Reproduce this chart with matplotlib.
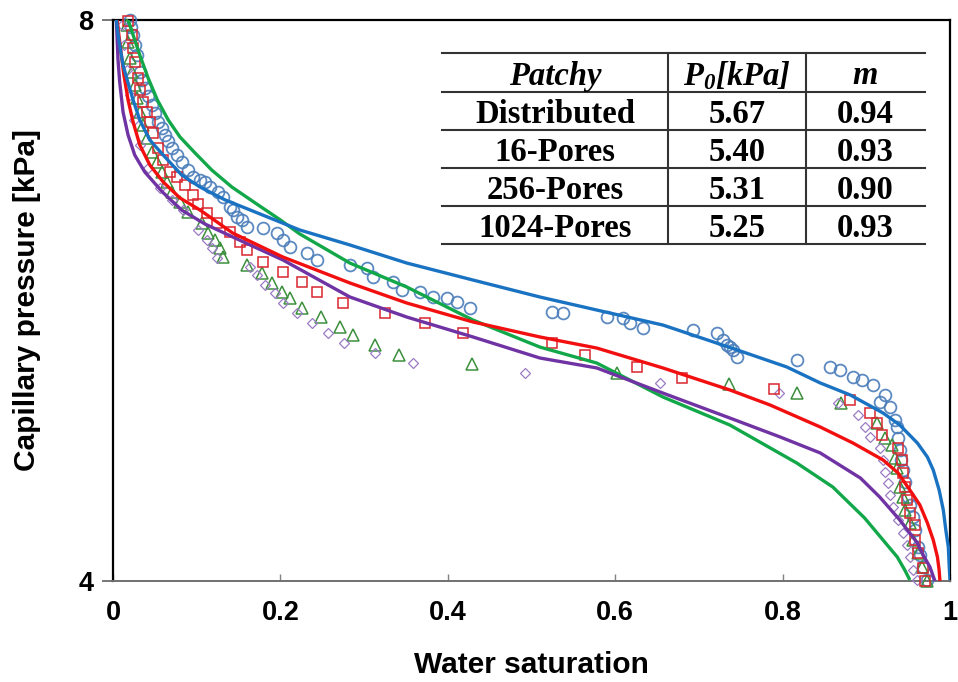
import matplotlib
matplotlib.use("Agg")
import matplotlib.pyplot as plt
from matplotlib.lines import Line2D

plt.rcParams['font.family'] = ['Liberation Sans', 'DejaVu Sans']
plt.rcParams['mathtext.fontset'] = 'custom'
plt.rcParams['mathtext.bfit'] = 'Liberation Serif:italic:bold'
plt.rcParams['mathtext.it'] = 'Liberation Serif:italic:bold'
plt.rcParams['mathtext.rm'] = 'Liberation Serif:bold'

# ---------------- data ----------------
# fitted curves
blue_fit_x = [0.004, 0.007, 0.012, 0.017, 0.024, 0.032, 0.044, 0.060, 0.082, 0.104, 0.134, 0.164,
              0.223, 0.283, 0.351, 0.430, 0.510, 0.578, 0.657, 0.746, 0.805, 0.845, 0.881, 0.920,
              0.940, 0.961, 0.973, 0.980, 0.987, 0.992, 0.995, 0.998, 0.999, 1.000]
blue_fit_y = [8.000, 7.857, 7.679, 7.572, 7.430, 7.287, 7.144, 7.037, 6.895, 6.809, 6.717, 6.645,
              6.503, 6.396, 6.267, 6.146, 6.025, 5.932, 5.825, 5.647, 5.526, 5.412, 5.326, 5.198,
              5.112, 4.984, 4.884, 4.791, 4.649, 4.506, 4.364, 4.242, 4.114, 4.007]

red_fit_x = [0.005, 0.007, 0.010, 0.013, 0.018, 0.024, 0.032, 0.044, 0.060, 0.080, 0.104, 0.143,
             0.203, 0.283, 0.351, 0.430, 0.510, 0.578, 0.657, 0.737, 0.785, 0.845, 0.884, 0.920,
             0.938, 0.952, 0.964, 0.973, 0.980, 0.985, 0.987, 0.988]
red_fit_y = [8.000, 7.893, 7.750, 7.608, 7.430, 7.273, 7.109, 6.966, 6.845, 6.731, 6.645, 6.481,
             6.310, 6.125, 5.982, 5.847, 5.740, 5.661, 5.519, 5.362, 5.255, 5.098, 4.984, 4.863,
             4.770, 4.649, 4.542, 4.414, 4.292, 4.171, 4.078, 4.000]

green_fit_x = [0.018, 0.024, 0.032, 0.042, 0.053, 0.066, 0.080, 0.098, 0.118, 0.142, 0.170, 0.200,
               0.223, 0.283, 0.351, 0.430, 0.510, 0.578, 0.657, 0.737, 0.817, 0.860, 0.898, 0.913,
               0.928, 0.937, 0.946, 0.952]
green_fit_y = [8.000, 7.893, 7.750, 7.586, 7.430, 7.287, 7.166, 7.052, 6.930, 6.809, 6.695, 6.574,
               6.475, 6.267, 6.096, 5.861, 5.668, 5.554, 5.312, 5.112, 4.841, 4.670, 4.449, 4.342,
               4.235, 4.171, 4.078, 4.007]

purple_fit_x = [0.004, 0.005, 0.006, 0.008, 0.012, 0.018, 0.026, 0.038, 0.059, 0.082, 0.110, 0.143,
                0.203, 0.283, 0.351, 0.430, 0.510, 0.578, 0.657, 0.737, 0.797, 0.845, 0.893, 0.916,
                0.940, 0.961, 0.968, 0.976, 0.982]
purple_fit_y = [8.000, 7.857, 7.715, 7.558, 7.344, 7.180, 7.037, 6.916, 6.774, 6.645, 6.545, 6.453,
                6.289, 6.025, 5.882, 5.740, 5.590, 5.519, 5.340, 5.162, 5.027, 4.913, 4.734, 4.599,
                4.435, 4.271, 4.185, 4.100, 4.000]

# measured data
distributed_x = [0.020, 0.022, 0.024, 0.026, 0.029, 0.032, 0.035, 0.038, 0.042, 0.047, 0.050, 0.054,
                 0.059, 0.062, 0.066, 0.070, 0.076, 0.082, 0.090, 0.096, 0.104, 0.110, 0.116, 0.125,
                 0.131, 0.140, 0.143, 0.148, 0.154, 0.160, 0.179, 0.196, 0.203, 0.211, 0.232, 0.244,
                 0.283, 0.303, 0.311, 0.335, 0.345, 0.367, 0.382, 0.399, 0.411, 0.427, 0.524, 0.538,
                 0.590, 0.609, 0.618, 0.633, 0.693, 0.722, 0.729, 0.733, 0.737, 0.741, 0.746, 0.817,
                 0.857, 0.869, 0.884, 0.895, 0.908, 0.916, 0.922, 0.928, 0.934, 0.937, 0.938, 0.940,
                 0.941, 0.944, 0.946, 0.950, 0.952, 0.956, 0.958, 0.962, 0.964, 0.968, 0.972]
distributed_y = [8.000, 7.950, 7.893, 7.822, 7.750, 7.629, 7.572, 7.515, 7.458, 7.394, 7.337, 7.273,
                 7.230, 7.180, 7.137, 7.087, 7.040, 6.988, 6.930, 6.881, 6.859, 6.845, 6.809, 6.774,
                 6.738, 6.667, 6.645, 6.595, 6.574, 6.524, 6.517, 6.481, 6.431, 6.381, 6.339, 6.289,
                 6.253, 6.232, 6.168, 6.132, 6.075, 6.061, 6.025, 6.018, 5.989, 5.947, 5.918, 5.911,
                 5.882, 5.875, 5.840, 5.804, 5.790, 5.768, 5.718, 5.683, 5.668, 5.647, 5.597, 5.576,
                 5.526, 5.504, 5.455, 5.433, 5.398, 5.276, 5.326, 5.241, 5.148, 5.098, 5.020, 4.934,
                 4.863, 4.791, 4.706, 4.599, 4.542, 4.456, 4.364, 4.242, 4.185, 4.100, 4.007]

pores16_x = [0.018, 0.023, 0.024, 0.026, 0.030, 0.032, 0.036, 0.041, 0.044, 0.048, 0.054, 0.060,
             0.068, 0.076, 0.086, 0.096, 0.102, 0.112, 0.124, 0.140, 0.152, 0.160, 0.179, 0.203,
             0.226, 0.244, 0.275, 0.325, 0.373, 0.418, 0.524, 0.564, 0.626, 0.680, 0.790, 0.881,
             0.904, 0.913, 0.919, 0.938, 0.943, 0.944, 0.946, 0.949, 0.952, 0.958, 0.958, 0.962,
             0.968, 0.970]
pores16_y = [7.990, 7.893, 7.800, 7.701, 7.586, 7.501, 7.415, 7.344, 7.273, 7.194, 7.087, 7.002,
             6.916, 6.881, 6.824, 6.752, 6.688, 6.624, 6.553, 6.488, 6.417, 6.360, 6.275, 6.203,
             6.132, 6.061, 5.982, 5.911, 5.840, 5.768, 5.697, 5.611, 5.526, 5.447, 5.369, 5.291,
             5.198, 5.127, 5.041, 4.948, 4.863, 4.770, 4.670, 4.578, 4.485, 4.399, 4.292, 4.200,
             4.093, 4.000]

pores256_x = [0.017, 0.018, 0.020, 0.023, 0.026, 0.029, 0.032, 0.036, 0.041, 0.047, 0.053, 0.059,
              0.065, 0.070, 0.080, 0.090, 0.106, 0.114, 0.122, 0.128, 0.131, 0.160, 0.178, 0.190,
              0.202, 0.211, 0.226, 0.249, 0.271, 0.287, 0.313, 0.342, 0.429, 0.602, 0.736, 0.817,
              0.870, 0.913, 0.922, 0.931, 0.934, 0.937, 0.940, 0.944, 0.946, 0.952, 0.956, 0.962,
              0.967, 0.973]
pores256_y = [7.964, 7.843, 7.729, 7.629, 7.537, 7.444, 7.344, 7.251, 7.159, 7.059, 6.988, 6.916,
              6.845, 6.774, 6.702, 6.631, 6.553, 6.481, 6.431, 6.374, 6.310, 6.253, 6.196, 6.125,
              6.061, 6.018, 5.947, 5.882, 5.811, 5.754, 5.683, 5.611, 5.547, 5.483, 5.405, 5.340,
              5.269, 5.127, 5.020, 4.970, 4.877, 4.806, 4.670, 4.599, 4.506, 4.414, 4.292, 4.200,
              4.100, 4.000]

pores1024_x = [0.011, 0.013, 0.017, 0.020, 0.025, 0.032, 0.042, 0.056, 0.070, 0.084, 0.102, 0.112,
               0.118, 0.124, 0.164, 0.172, 0.182, 0.194, 0.203, 0.220, 0.238, 0.257, 0.276, 0.313,
               0.358, 0.492, 0.654, 0.796, 0.866, 0.890, 0.898, 0.904, 0.916, 0.920, 0.922, 0.926,
               0.928, 0.932, 0.938, 0.944, 0.949, 0.952, 0.956, 0.961]
pores1024_y = [7.964, 7.822, 7.644, 7.465, 7.287, 7.109, 6.945, 6.802, 6.717, 6.645, 6.503, 6.431,
               6.374, 6.303, 6.239, 6.182, 6.111, 6.054, 5.982, 5.911, 5.840, 5.768, 5.697, 5.626,
               5.554, 5.483, 5.412, 5.340, 5.269, 5.184, 5.098, 5.027, 4.948, 4.863, 4.777, 4.699,
               4.613, 4.528, 4.435, 4.342, 4.257, 4.171, 4.078, 4.007]

# table contents
table_header = ["Patchy", r"$\mathbfit{P_0[kPa]}$", "m"]
table_cases = ["Distributed", "16-Pores", "256-Pores", "1024-Pores"]
table_p0 = ["5.67", "5.40", "5.31", "5.25"]
table_m = ["0.94", "0.93", "0.90", "0.93"]

x_ticks = [0, 0.2, 0.4, 0.6, 0.8, 1]
x_tick_labels = ["0", "0.2", "0.4", "0.6", "0.8", "1"]
y_ticks = [4, 8]
y_tick_labels = ["4", "8"]

# ---------------- figure ----------------
W, H = 958, 682
fig = plt.figure(figsize=(W / 100, H / 100), dpi=100)
ax = fig.add_axes([113 / W, 1 - 581 / H, (950 - 113) / W, (581 - 20) / H])

c_blue_pts = '#4A7DBA'
c_red_pts = '#D9262F'
c_green_pts = '#3C8F3C'
c_purple_pts = '#9B7CC4'

ms_kw = dict(ls='none', mfc='none', clip_on=False, zorder=3)
ax.plot(distributed_x, distributed_y, marker='o', ms=8.5, mec=c_blue_pts, mew=1.3, alpha=0.9, **ms_kw)
ax.plot(pores256_x, pores256_y, marker='^', ms=8, mec=c_green_pts, mew=1.1, **ms_kw)
ax.plot(pores1024_x, pores1024_y, marker='D', ms=5.5, mec=c_purple_pts, mew=0.9, **ms_kw)
ax.plot(pores16_x, pores16_y, marker='s', ms=7.5, mec=c_red_pts, mew=1.1, **ms_kw)

lw = 2.4
line_kw = dict(lw=lw, zorder=4, solid_capstyle='butt', solid_joinstyle='round')
ax.plot(green_fit_x, green_fit_y, color='#12A84A', **line_kw)
ax.plot(purple_fit_x, purple_fit_y, color='#7033A3', **line_kw)
ax.plot(red_fit_x, red_fit_y, color='#F20F0F', **line_kw)
ax.plot(blue_fit_x, blue_fit_y, color='#1A73C2', **line_kw)

ax.set_xlim(0, 1)
ax.set_ylim(4, 8)
ax.set_xticks(x_ticks)
ax.set_xticklabels(x_tick_labels, fontsize=19.5, fontweight='bold')
ax.set_yticks(y_ticks)
ax.set_yticklabels(y_tick_labels, fontsize=19.5, fontweight='bold')
ax.tick_params(axis='x', direction='in', length=5, width=1, color='#808080', pad=14)
ax.tick_params(axis='y', direction='out', length=8, width=1.2, color='#606060', pad=6)
for s in ['top', 'right', 'left']:
    ax.spines[s].set_color('black')
    ax.spines[s].set_linewidth(1.6)
ax.spines['bottom'].set_color('#707070')
ax.spines['bottom'].set_linewidth(1.4)

ax.set_xlabel("Water saturation", fontsize=21.5, fontweight='bold', labelpad=18)
ax.set_ylabel("Capillary pressure [kPa]", fontsize=21.5, fontweight='bold', labelpad=27)

# ---------------- table ----------------
def fx(px):
    return px / W

def fy(py):
    return 1 - py / H

t_left, t_right = 442, 925
col_div = [668, 806]
row_lines = [53, 92, 130, 168, 206, 244]
col_cent = [555, 737, 865]
for yl in row_lines:
    fig.add_artist(Line2D([fx(t_left), fx(t_right)], [fy(yl), fy(yl)], color='#333333', lw=1.5))
for xc in col_div:
    fig.add_artist(Line2D([fx(xc), fx(xc)], [fy(row_lines[0]), fy(row_lines[-1])], color='#333333', lw=1.5))

serif = ['Liberation Serif', 'DejaVu Serif']
tfs = 23.5
for j, txt in enumerate(table_header):
    yc = (row_lines[0] + row_lines[1]) / 2
    fig.text(fx(col_cent[j]), fy(yc), txt, family=serif, fontsize=tfs, fontweight='bold',
             fontstyle='italic', ha='center', va='center_baseline')
for i in range(len(table_cases)):
    yc = (row_lines[i + 1] + row_lines[i + 2]) / 2
    for j, txt in enumerate([table_cases[i], table_p0[i], table_m[i]]):
        fig.text(fx(col_cent[j]), fy(yc), txt, family=serif, fontsize=tfs, fontweight='bold',
                 ha='center', va='center_baseline')

fig.savefig("out.png", dpi=100)
